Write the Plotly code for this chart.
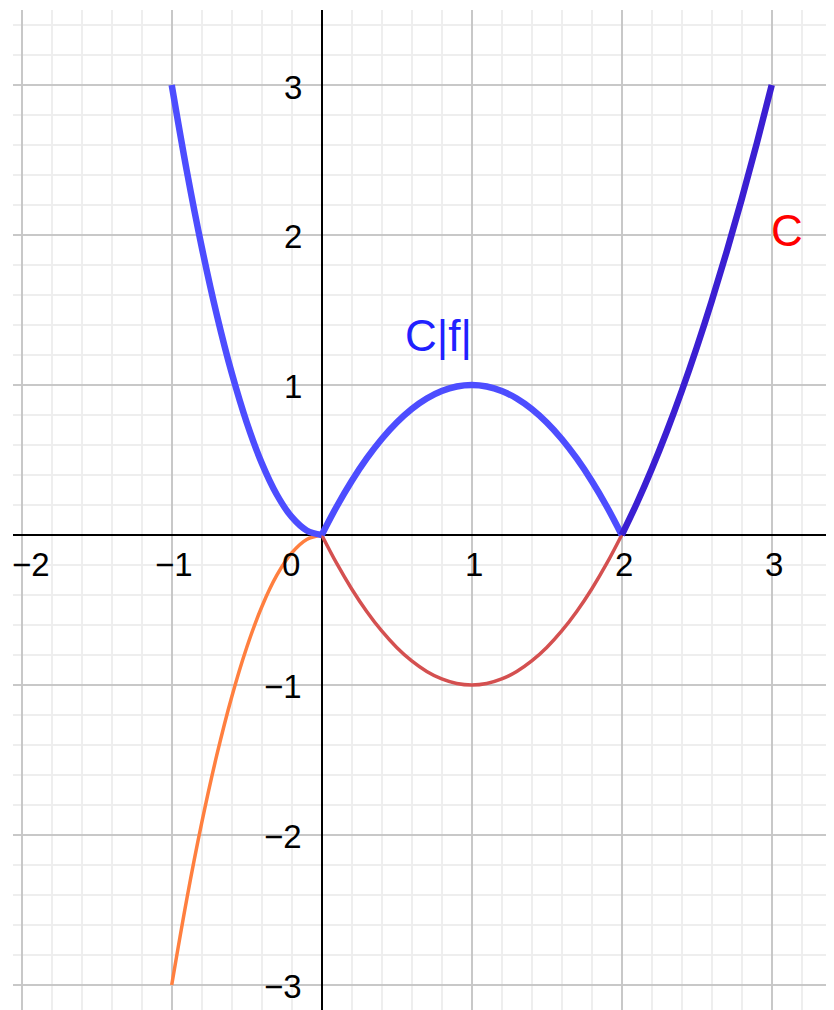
import plotly.graph_objects as go

# values
x_left = [-1.0, -0.9, -0.8, -0.7, -0.6, -0.5, -0.4, -0.3, -0.2, -0.1, 0.0]
f_left = [-3.0, -2.43, -1.92, -1.47, -1.08, -0.75, -0.48, -0.27, -0.12, -0.03, 0.0]
abs_left = [3.0, 2.43, 1.92, 1.47, 1.08, 0.75, 0.48, 0.27, 0.12, 0.03, 0.0]

x_mid = [0.0, 0.1, 0.2, 0.3, 0.4, 0.5, 0.6, 0.7, 0.8, 0.9, 1.0,
         1.1, 1.2, 1.3, 1.4, 1.5, 1.6, 1.7, 1.8, 1.9, 2.0]
f_mid = [0.0, -0.19, -0.36, -0.51, -0.64, -0.75, -0.84, -0.91, -0.96, -0.99, -1.0,
         -0.99, -0.96, -0.91, -0.84, -0.75, -0.64, -0.51, -0.36, -0.19, 0.0]
abs_mid = [0.0, 0.19, 0.36, 0.51, 0.64, 0.75, 0.84, 0.91, 0.96, 0.99, 1.0,
           0.99, 0.96, 0.91, 0.84, 0.75, 0.64, 0.51, 0.36, 0.19, 0.0]

x_right = [2.0, 2.1, 2.2, 2.3, 2.4, 2.5, 2.6, 2.7, 2.8, 2.9, 3.0]
f_right = [0.0, 0.21, 0.44, 0.69, 0.96, 1.25, 1.56, 1.89, 2.24, 2.61, 3.0]

x_ticks = [-2, -1, 0, 1, 2, 3]
x_tick_labels = ["−2", "−1", "0", "1", "2", "3"]
y_ticks = [-3, -2, -1, 1, 2, 3]
y_tick_labels = ["−3", "−2", "−1", "1", "2", "3"]

BLUE = "#4d4dff"
DARKBLUE = "#3b1fd2"
RED = "#d45050"
ORANGE = "#ff7f3f"

fig = go.Figure()
fig.add_trace(go.Scatter(x=x_left, y=f_left, mode="lines", line=dict(color=ORANGE, width=3.5, shape="spline")))
fig.add_trace(go.Scatter(x=x_mid, y=f_mid, mode="lines", line=dict(color=RED, width=3.5, shape="spline")))
fig.add_trace(go.Scatter(x=x_left, y=abs_left, mode="lines", line=dict(color=BLUE, width=6.5, shape="spline")))
fig.add_trace(go.Scatter(x=x_mid, y=abs_mid, mode="lines", line=dict(color=BLUE, width=6.5, shape="spline")))
fig.add_trace(go.Scatter(x=x_right, y=f_right, mode="lines", line=dict(color=DARKBLUE, width=6.5, shape="spline")))

font_family = "Liberation Sans, Arial, sans-serif"
TICK_SIZE = 33
annotations = []
for v, t in zip(x_ticks, x_tick_labels):
    if v == 0:
        annotations.append(dict(x=0, y=0, xref="x", yref="y", text=t, showarrow=False,
                                xanchor="right", yanchor="middle", xshift=-20, yshift=-30,
                                font=dict(size=TICK_SIZE, color="black", family=font_family)))
    else:
        annotations.append(dict(x=v, y=0, xref="x", yref="y", text=t, showarrow=False,
                                xanchor="center", yanchor="middle",
                                xshift=(9 if v == -2 else 2), yshift=-30,
                                font=dict(size=TICK_SIZE, color="black", family=font_family)))
for v, t in zip(y_ticks, y_tick_labels):
    annotations.append(dict(x=0, y=v, xref="x", yref="y", text=t, showarrow=False,
                            xanchor="right", yanchor="middle", xshift=-18, yshift=-2,
                            font=dict(size=TICK_SIZE, color="black", family=font_family)))
annotations.append(dict(x=0.78, y=1.33, xref="x", yref="y", text="C|f|", showarrow=False,
                        xanchor="center", yanchor="middle",
                        font=dict(size=44, color="#2020ff", family=font_family)))
annotations.append(dict(x=3.1, y=2.03, xref="x", yref="y", text="C", showarrow=False,
                        xanchor="center", yanchor="middle",
                        font=dict(size=44, color="#ff0000", family=font_family)))

axis_common = dict(
    showticklabels=False, ticks="", dtick=1, tick0=0,
    showgrid=True, gridcolor="#c8c8c8", gridwidth=2,
    minor=dict(dtick=0.2, tick0=0, showgrid=True, gridcolor="#eeeeee", gridwidth=1.5),
    zeroline=True, zerolinecolor="black", zerolinewidth=2,
    showline=False, fixedrange=True,
)

# the page body adds an 8px offset; size and margins compensate for it
fig.update_layout(
    width=826, height=1002,
    margin=dict(l=5, r=0, t=2, b=0),
    paper_bgcolor="white", plot_bgcolor="white",
    showlegend=False,
    xaxis=dict(range=[-2.058, 3.415], **axis_common),
    yaxis=dict(range=[-3.167, 3.5], **axis_common),
    annotations=annotations,
)

fig.write_html("out.html")
